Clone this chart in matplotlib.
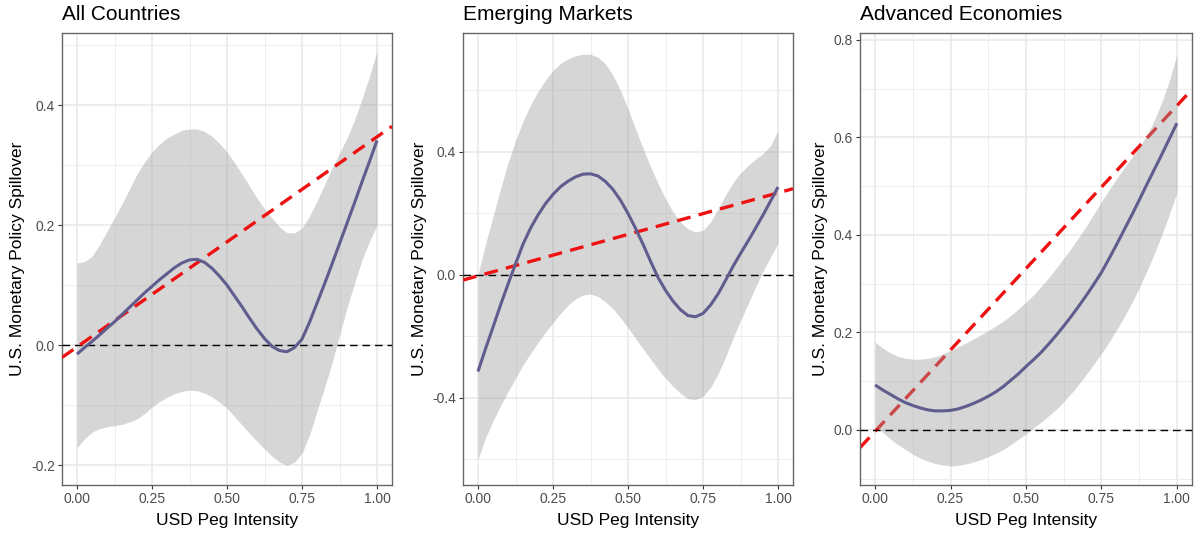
import numpy as np
import matplotlib.pyplot as plt
from matplotlib.ticker import MultipleLocator, FormatStrFormatter

plt.rcParams['font.family'] = ['Liberation Sans', 'DejaVu Sans']
plt.rcParams['axes.unicode_minus'] = False
plt.rcParams['lines.scale_dashes'] = False

# peg intensity grid used for the smooth fits (step 0.025)
peg = [round(0.025 * k, 3) for k in range(41)]

# All countries: fit and confidence band
all_fit = [-0.015, -0.004, 0.006, 0.017, 0.028, 0.039, 0.051, 0.063, 0.075, 0.087,
           0.098, 0.109, 0.119, 0.129, 0.137, 0.142, 0.143, 0.138, 0.128, 0.115,
           0.100, 0.082, 0.064, 0.045, 0.027, 0.011, -0.002, -0.009, -0.011, -0.004,
           0.010, 0.038, 0.070, 0.102, 0.135, 0.169, 0.203, 0.237, 0.272, 0.306, 0.341]
all_lo = [-0.171, -0.156, -0.145, -0.139, -0.136, -0.134, -0.132, -0.128, -0.123, -0.114,
          -0.103, -0.094, -0.087, -0.081, -0.077, -0.075, -0.076, -0.080, -0.086, -0.095,
          -0.105, -0.119, -0.133, -0.147, -0.160, -0.173, -0.185, -0.195, -0.200, -0.195,
          -0.180, -0.150, -0.110, -0.071, -0.030, 0.016, 0.062, 0.103, 0.142, 0.173, 0.200]
all_hi = [0.137, 0.139, 0.148, 0.167, 0.190, 0.212, 0.235, 0.260, 0.285, 0.305,
          0.322, 0.335, 0.345, 0.352, 0.358, 0.360, 0.360, 0.356, 0.348, 0.336,
          0.322, 0.304, 0.285, 0.265, 0.245, 0.227, 0.212, 0.197, 0.187, 0.187,
          0.195, 0.215, 0.240, 0.267, 0.295, 0.320, 0.345, 0.375, 0.410, 0.448, 0.490]

# Emerging markets
em_fit = [-0.314, -0.240, -0.170, -0.098, -0.030, 0.036, 0.100, 0.152, 0.195, 0.232,
          0.262, 0.287, 0.305, 0.319, 0.328, 0.329, 0.322, 0.304, 0.278, 0.243,
          0.200, 0.152, 0.100, 0.045, -0.008, -0.050, -0.085, -0.113, -0.132, -0.136,
          -0.125, -0.098, -0.062, -0.018, 0.028, 0.070, 0.110, 0.152, 0.195, 0.240, 0.286]
em_lo = [-0.600, -0.530, -0.475, -0.425, -0.380, -0.336, -0.293, -0.255, -0.220, -0.186,
         -0.155, -0.125, -0.098, -0.078, -0.065, -0.062, -0.070, -0.087, -0.110, -0.139,
         -0.172, -0.206, -0.240, -0.273, -0.306, -0.336, -0.362, -0.385, -0.402, -0.405,
         -0.395, -0.366, -0.322, -0.267, -0.205, -0.148, -0.095, -0.040, 0.012, 0.058, 0.103]
em_hi = [0.000, 0.100, 0.190, 0.280, 0.365, 0.437, 0.500, 0.553, 0.597, 0.634,
         0.665, 0.688, 0.703, 0.713, 0.718, 0.718, 0.708, 0.686, 0.650, 0.600,
         0.540, 0.476, 0.412, 0.353, 0.298, 0.248, 0.205, 0.172, 0.150, 0.140,
         0.145, 0.172, 0.215, 0.260, 0.300, 0.332, 0.356, 0.376, 0.395, 0.420, 0.470]

# Advanced economies
ae_fit = [0.092, 0.082, 0.073, 0.064, 0.056, 0.050, 0.045, 0.041, 0.039, 0.039,
          0.040, 0.043, 0.048, 0.054, 0.061, 0.069, 0.078, 0.089, 0.102, 0.115,
          0.130, 0.144, 0.159, 0.176, 0.194, 0.213, 0.233, 0.254, 0.276, 0.299,
          0.323, 0.351, 0.380, 0.410, 0.440, 0.471, 0.503, 0.534, 0.565, 0.597, 0.629]
ae_lo = [0.008, -0.005, -0.018, -0.030, -0.040, -0.050, -0.058, -0.064, -0.069, -0.072,
         -0.074, -0.073, -0.070, -0.066, -0.061, -0.055, -0.048, -0.040, -0.030, -0.019,
         -0.008, 0.004, 0.016, 0.029, 0.042, 0.058, 0.075, 0.094, 0.114, 0.135,
         0.157, 0.180, 0.205, 0.231, 0.260, 0.291, 0.325, 0.361, 0.400, 0.442, 0.487]
ae_hi = [0.180, 0.168, 0.158, 0.151, 0.147, 0.145, 0.145, 0.147, 0.150, 0.156,
         0.163, 0.170, 0.178, 0.186, 0.195, 0.204, 0.213, 0.223, 0.235, 0.248,
         0.262, 0.277, 0.294, 0.312, 0.332, 0.352, 0.373, 0.395, 0.418, 0.443,
         0.468, 0.492, 0.515, 0.537, 0.558, 0.580, 0.604, 0.635, 0.672, 0.716, 0.770]

# linear fits (intercept, slope)
all_trend = (-0.003, 0.350)
em_trend = (-0.003, 0.270)
ae_trend = (-0.003, 0.668)

titles = ['All Countries', 'Emerging Markets', 'Advanced Economies']

W, H = 1198, 533
fig = plt.figure(figsize=(W / 100, H / 100), dpi=100)

# (left, right) pixel edges of each panel, shared top/bottom
boxes = [(62, 392), (463, 793), (860, 1192)]
top, bottom = 33, 485

panels = [
    (all_fit, all_lo, all_hi, all_trend, (-0.233, 0.520), 0.2, False),
    (em_fit, em_lo, em_hi, em_trend, (-0.683, 0.787), 0.4, False),
    (ae_fit, ae_lo, ae_hi, ae_trend, (-0.113, 0.814), 0.2, True),
]

for i, (fit, lo, hi, trend, ylim, ystep, red_below) in enumerate(panels):
    l, r = boxes[i]
    ax = fig.add_axes([l / W, 1 - bottom / H, (r - l) / W, (bottom - top) / H])

    ax.set_xlim(-0.05, 1.05)
    ax.set_ylim(*ylim)
    ax.xaxis.set_major_locator(MultipleLocator(0.25))
    ax.xaxis.set_minor_locator(MultipleLocator(0.125))
    ax.yaxis.set_major_locator(MultipleLocator(ystep))
    ax.yaxis.set_minor_locator(MultipleLocator(ystep / 2))
    ax.xaxis.set_major_formatter(FormatStrFormatter('%.2f'))
    ax.yaxis.set_major_formatter(FormatStrFormatter('%.1f'))

    ax.set_axisbelow(True)
    ax.grid(which='major', color='#E8E8E8', lw=1.1)
    ax.grid(which='minor', color='#EBEBEB', lw=0.6)
    ax.tick_params(which='major', length=3, width=0.8, color='#333333',
                   labelsize=10, labelcolor='#4D4D4D', pad=2)
    ax.tick_params(which='minor', length=0)
    for s in ax.spines.values():
        s.set_color('#666666')
        s.set_linewidth(1.0)

    # red line goes under the band in the last panel
    rz = 1 if red_below else 4
    ax.axline((0, trend[0]), slope=trend[1], color='#EE1111', lw=2.4,
              linestyle=(0, (10, 6)), zorder=rz)
    ax.fill_between(peg, lo, hi, color='#999999', alpha=0.4, lw=0, zorder=2)
    ax.axhline(0, color='black', lw=1.0, linestyle=(0, (5.5, 3.5)), zorder=3)
    ax.plot(peg, fit, color='#5F5C8E', lw=2.2, solid_capstyle='butt', zorder=5)

    ax.set_title(titles[i], loc='left', fontsize=15, pad=9)
    ax.set_xlabel('USD Peg Intensity', fontsize=12.5, labelpad=5)
    ax.set_ylabel('U.S. Monetary Policy Spillover', fontsize=12.5, labelpad=4)

fig.savefig('out.png', dpi=100)
